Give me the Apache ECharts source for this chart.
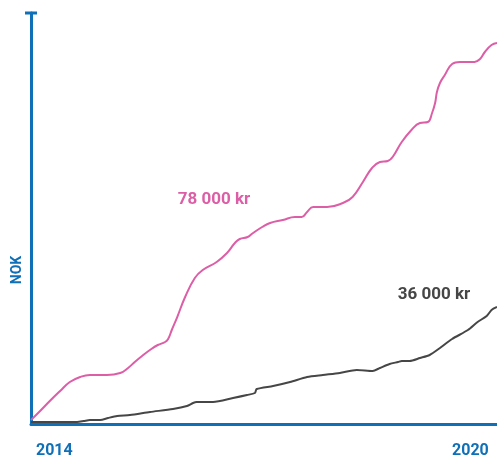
<!DOCTYPE html>
<html>
<head>
<meta charset="utf-8">
<script src="https://cdn.jsdelivr.net/npm/echarts@6/dist/echarts.min.js"></script>
<style>
html,body{margin:0;padding:0;background:#fff;}
#c{width:497px;height:457px;}
</style>
</head>
<body>
<div id="c"></div>
<script>
// x: months since January 2014, y: relative level (NOK)
var pinkMonths = [0,1.5,3.1,4.8,6.4,8.1,9.7,12.5,14.7,16.0,17.1,18.3,19.6,20.9,22.1,22.6,23.2,24.1,25.4,27.0,28.3,30.6,32.3,33.6,34.4,35.7,36.6,38.1,39.4,41.5,43.5,44.6,45.5,46.5,48.8,51.4,53.0,54.7,56.2,57.5,58.8,59.6,61.1,62.7,64.1,65.4,66.1,66.6,66.9,67.4,68.2,69.4,70.7,73.1,74.0,74.8,75.9,76.8];
var pinkValues = [4,13,23,33,42,47,49,49,51,56,62,68,74,79,82,85,94,107,127,146,154,162,171,181,185,187,191,197,201,204,207,207,212,217,217,221,227,242,256,262,263,267,282,294,301,302,311,321,332,341,349,360,362,362,365,372,379,381];
var grayMonths = [0,7.6,8.7,9.7,11.4,12.7,14.2,16.3,19.6,23.4,25.7,26.7,27.3,30.0,33.3,35.6,36.9,37.2,39.9,42.7,45.5,48.1,50.9,53.7,56.3,57.5,59.1,60.5,61.1,62.4,64.1,65.7,67.4,69.4,72.0,73.6,75.1,75.9,76.8];
var grayValues = [2,2,3,4,4,6,8,9,12,15,18,21,22,22,26,29,31,35,38,42,47,49,51,54,53,56,60,62,63,63,66,69,76,85,94,102,108,114,117];
var tickLabels = ['2014','2020'];
var pinkLabel = '78 000 kr';
var grayLabel = '36 000 kr';
var axisName = 'NOK';

function zip(a,b){return a.map(function(v,i){return [v,b[i]];});}

var blue = '#0f6fb7';
var pink = '#dc5ea6';
var gray = '#464646';
var font = 'Roboto, "Noto Sans", sans-serif';

var chart = echarts.init(document.getElementById('c'), null, {renderer:'canvas'});
chart.setOption({
  animation:false,
  grid:{left:31,right:0,top:13,bottom:33,containLabel:false,outerBoundsMode:'none'},
  xAxis:{
    type:'value',min:0,max:76.8,interval:72,
    axisLine:{show:true,lineStyle:{color:blue,width:3}},
    axisTick:{show:false},
    splitLine:{show:false},
    axisLabel:{
      show:true,margin:19,color:blue,fontSize:16,fontWeight:'bold',fontFamily:font,
      alignMinLabel:'left',
      padding:[0,0,0,5],
      showMaxLabel:false,
      formatter:function(v){ if(v===0) return tickLabels[0]; if(v===72) return tickLabels[1]; return ''; }
    }
  },
  yAxis:{
    type:'value',min:0,max:411,
    axisLine:{show:true,symbol:['none','rect'],symbolSize:[12,3],lineStyle:{color:blue,width:3}},
    axisTick:{show:false},
    splitLine:{show:false},
    axisLabel:{show:false}
  },
  series:[
    {type:'line',data:zip(pinkMonths,pinkValues),smooth:0.45,showSymbol:false,
     lineStyle:{color:pink,width:2},z:3},
    {type:'line',data:zip(grayMonths,grayValues),smooth:0.25,showSymbol:false,
     lineStyle:{color:gray,width:2},z:3}
  ],
  graphic:[
    {type:'text',x:214,y:200,style:{text:pinkLabel,fill:pink,font:'bold 17px '+font,align:'center',verticalAlign:'middle'}},
    {type:'text',x:434,y:295,style:{text:grayLabel,fill:gray,font:'bold 17px '+font,align:'center',verticalAlign:'middle'}},
    {type:'text',x:17,y:270,rotation:Math.PI/2,style:{text:axisName,fill:blue,font:'bold 14px '+font,align:'center',verticalAlign:'middle'}}
  ]
});
</script>
</body>
</html>
